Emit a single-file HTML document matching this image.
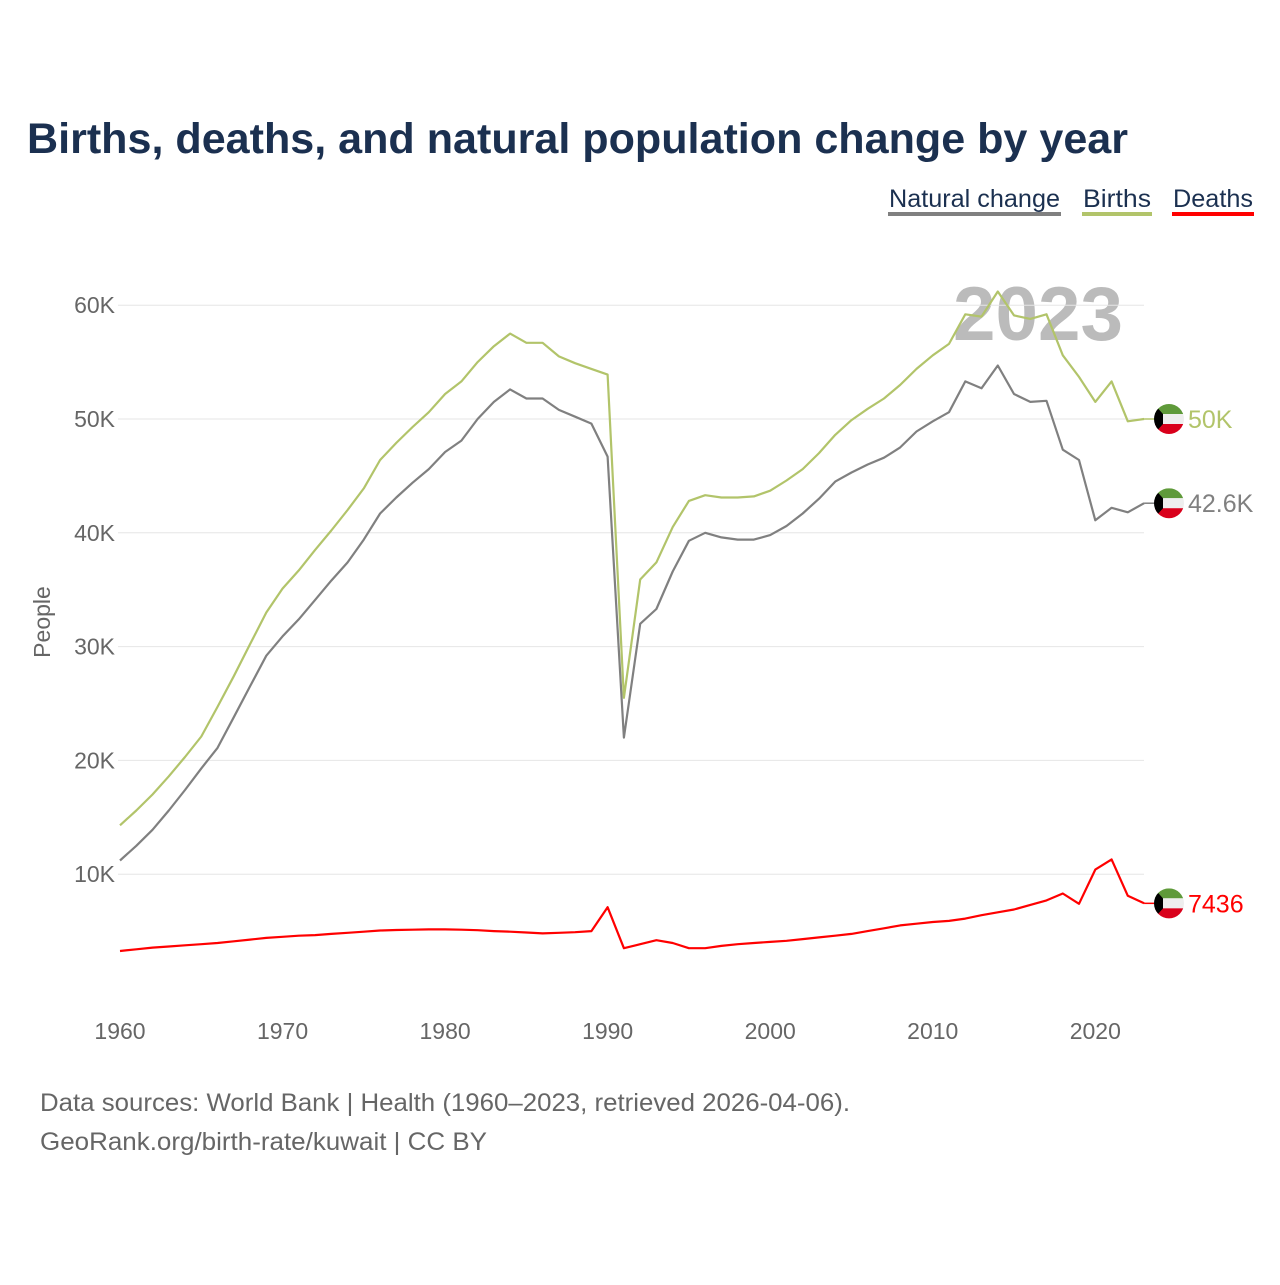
<!DOCTYPE html>
<html><head><meta charset="utf-8"><style>
body{margin:0;background:#fff;}
svg text{font-family:"Liberation Sans",sans-serif;}
</style></head><body>
<svg id="chart" width="1280" height="1280" viewBox="0 0 1280 1280" xmlns="http://www.w3.org/2000/svg">
<text x="27" y="153" font-size="43" font-weight="bold" fill="#1b3050" textLength="1101" lengthAdjust="spacingAndGlyphs">Births, deaths, and natural population change by year</text>
<g>
<g><text x="889" y="207" font-size="25" fill="#1b3050" textLength="171" lengthAdjust="spacingAndGlyphs">Natural change</text><rect x="888" y="212" width="173" height="4" fill="#808080"/></g>
<g><text x="1083" y="207" font-size="25" fill="#1b3050" textLength="68" lengthAdjust="spacingAndGlyphs">Births</text><rect x="1082" y="212" width="70" height="4" fill="#b2c46a"/></g>
<g><text x="1173" y="207" font-size="25" fill="#1b3050" textLength="80" lengthAdjust="spacingAndGlyphs">Deaths</text><rect x="1172" y="212" width="82" height="4" fill="#ff0000"/></g>
</g>
<text x="1038" y="340" font-size="76" font-weight="bold" fill="#bbbbbb" text-anchor="middle" textLength="170" lengthAdjust="spacingAndGlyphs">2023</text>
<g id="grid"></g><g id="xaxis"></g>
<text transform="translate(50,622) rotate(-90)" font-size="23" fill="#666" text-anchor="middle">People</text>
<g id="lines"></g><g id="ends"></g>
<text x="40" y="1111" font-size="25" fill="#666" textLength="810" lengthAdjust="spacingAndGlyphs">Data sources: World Bank | Health (1960–2023, retrieved 2026-04-06).</text>
<text x="40" y="1150" font-size="25" fill="#666" textLength="447" lengthAdjust="spacingAndGlyphs">GeoRank.org/birth-rate/kuwait | CC BY</text>
</svg>
<script>
const years=[];for(let y=1960;y<=2023;y++)years.push(y);
const births=[14.3,15.6,17.0,18.6,20.3,22.1,24.7,27.4,30.2,33.0,35.1,36.7,38.5,40.2,42.0,43.9,46.4,47.9,49.3,50.6,52.2,53.3,55.0,56.4,57.5,56.7,56.7,55.5,54.9,54.4,53.9,25.5,35.9,37.4,40.5,42.8,43.3,43.1,43.1,43.2,43.7,44.6,45.6,47.0,48.6,49.9,50.9,51.8,53.0,54.4,55.6,56.6,59.2,59.0,61.2,59.1,58.8,59.2,55.6,53.7,51.5,53.3,49.8,50.0];
const natural=[11.2,12.5,13.9,15.6,17.4,19.3,21.1,23.8,26.5,29.2,30.9,32.4,34.1,35.8,37.4,39.4,41.7,43.1,44.4,45.6,47.1,48.1,50.0,51.5,52.6,51.8,51.8,50.8,50.2,49.6,46.7,22.0,32.0,33.3,36.6,39.3,40.0,39.6,39.4,39.4,39.8,40.6,41.7,43.0,44.5,45.3,46.0,46.6,47.5,48.9,49.8,50.6,53.3,52.7,54.7,52.2,51.5,51.6,47.3,46.4,41.1,42.2,41.8,42.6];
const deaths=[3.25,3.4,3.55,3.65,3.75,3.85,3.95,4.1,4.25,4.4,4.5,4.6,4.65,4.75,4.85,4.95,5.05,5.1,5.12,5.15,5.15,5.12,5.08,5.0,4.95,4.88,4.8,4.85,4.9,5.0,7.1,3.5,3.85,4.2,3.95,3.5,3.5,3.7,3.85,3.95,4.05,4.15,4.3,4.45,4.6,4.75,5.0,5.25,5.5,5.65,5.8,5.9,6.1,6.4,6.65,6.9,7.3,7.7,8.3,7.4,10.4,11.3,8.1,7.44];
const yTicks=[10,20,30,40,50,60];
const xTicks=[1960,1970,1980,1990,2000,2010,2020];
const endLabels=["42.6K","50K","7436"];
const NS="http://www.w3.org/2000/svg";
const xS=y=>120+(y-1960)*16.255;
const yS=v=>988-v*11.38;
function mk(t,a,p){const e=document.createElementNS(NS,t);for(const k in a)e.setAttribute(k,a[k]);p.appendChild(e);return e;}
const grid=document.getElementById('grid');
yTicks.forEach(v=>{
 const l=mk('line',{x1:118,x2:1144,y1:yS(v),y2:yS(v),stroke:'#e6e6e6','stroke-width':1},grid);
 
 
 const t=mk('text',{x:115,y:yS(v)+8,'font-size':23,fill:'#666','text-anchor':'end'},grid);
 t.textContent=v+'K';
 
 
});
const xa=document.getElementById('xaxis');
xTicks.forEach(y=>{
 const t=mk('text',{x:xS(y),y:1039,'font-size':23,fill:'#666','text-anchor':'middle'},xa);
 t.textContent=y;
 
 
});
const lines=document.getElementById('lines'),ends=document.getElementById('ends');
const series=[[natural,'#808080','natural-change-line'],[births,'#b2c46a','births-line'],[deaths,'#ff0000','deaths-line']];
series.forEach((s,i)=>{
 const d=s[0].map((v,j)=>(j?'L':'M')+xS(years[j]).toFixed(1)+','+yS(v).toFixed(1)).join('');
 const p=mk('path',{d:d,fill:'none',stroke:s[1],'stroke-width':2.2,'stroke-linejoin':'round'},lines);
 
 
 const last=s[0][s[0].length-1],ly=yS(last),cx=1169;
 const g=mk('g',{},ends);
 
 
 mk('line',{x1:xS(2023),x2:cx-15,y1:ly,y2:ly,stroke:s[1],'stroke-width':1.5},g);
 const cp='c'+i;
 const cl=mk('clipPath',{id:cp},g);mk('circle',{cx:cx,cy:ly,r:15},cl);
 const f=mk('g',{'clip-path':'url(#'+cp+')'},g);
 
 
 mk('rect',{x:cx-15,y:ly-15,width:30,height:10,fill:'#5f9a3a'},f);
 mk('rect',{x:cx-15,y:ly-5,width:30,height:10,fill:'#eee'},f);
 mk('rect',{x:cx-15,y:ly+5,width:30,height:11,fill:'#d9001b'},f);
 mk('polygon',{points:(cx-15)+','+(ly-15)+' '+(cx-6)+','+(ly-5)+' '+(cx-6)+','+(ly+5)+' '+(cx-15)+','+(ly+15),fill:'#000'},f);
 const t=mk('text',{x:cx+19,y:ly+9,'font-size':25,fill:s[1]},g);
 t.textContent=endLabels[i];
});
</script>
</body></html>
